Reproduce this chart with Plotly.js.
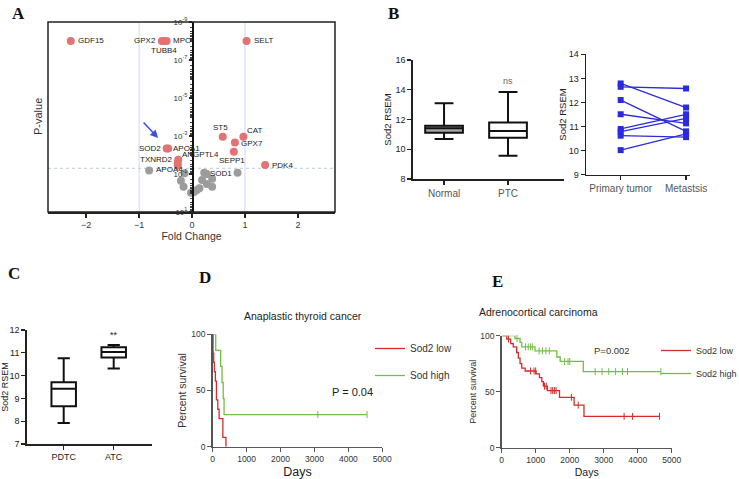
<!DOCTYPE html>
<html><head><meta charset="utf-8">
<script src="https://cdn.plot.ly/plotly-3.0.1.min.js"></script>
<style>html,body{margin:0;padding:0;background:#fff}#chart{width:739px;height:479px}</style>
</head><body><div id="chart"></div>
<script>
// ---------- Panel A: volcano ----------
const redGenes = ['GDF15','GPX2','TUBB4','MPO','SELT','ST5','CAT','GPX7','SEPP1','PDK4','SOD2','APOA1','TXNRD2','ANGPTL4',''];
const redFC    = [-2.29,-0.57,-0.53,-0.48,1.03,0.58,0.97,0.81,0.79,1.38,-0.48,-0.45,-0.27,-0.26,-0.27];
const redP     = [1e-8,1e-8,1e-8,1e-8,1e-8,1.1e-3,1.1e-3,2.2e-3,6.8e-3,0.034,4.5e-3,4.5e-3,0.026,0.018,0.036];
const grayGenes = ['APOA4','','','','SOD1','','','','','','','','','',''];
const grayFC    = [-0.81,-0.14,-0.21,-0.16,0.23,0.28,0.19,0.38,0.38,0.28,0.14,0.09,0.04,-0.02,0.86];
const grayP     = [0.065,0.091,0.23,0.47,0.087,0.10,0.21,0.18,0.47,0.34,0.56,0.69,0.89,0.98,0.087];
const pTicks = [1e-9,1e-7,1e-5,1e-3,1e-1,10];
const pTickText = ['10<sup>-9</sup>','10<sup>-7</sup>','10<sup>-5</sup>','10<sup>-3</sup>','10<sup>-1</sup>','10<sup>1</sup>'];
const fcTicks = [-2,-1,0,1,2];
const pThreshold = 0.05;

// ---------- Panel B left: box stats ----------
const bCats = ['Normal','PTC'];
const bQ1 = [11.11,10.78], bMed = [11.41,11.23], bQ3 = [11.58,11.79], bMin = [10.69,9.57], bMax = [13.09,13.85];

// ---------- Panel B right: paired ----------
const pairCats = ['Primary tumor','Metastsis'];
const primary    = [12.79,12.65,12.10,11.51,10.90,10.79,10.62,10.02];
const metastasis = [11.79,12.58,10.80,11.13,11.51,11.34,10.56,10.70];

// ---------- Panel C: box stats ----------
const cCats = ['PDTC','ATC'];
const cQ1 = [8.66,10.79], cMed = [9.42,11.04], cQ3 = [9.71,11.24], cMin = [7.92,10.31], cMax = [10.76,11.34];

// ---------- Panel D: KM anaplastic thyroid ----------
const dLowT = [0,10,30,50,80,110,150,190,300,390];
const dLowS = [100,83.3,75,66.7,58.3,41.7,33.3,25,8.3,0];
const dLowEnd = 390;
const dLowCens = [];
const dHighT = [0,90,235,275,310,335];
const dHighS = [100,85.7,71.4,57.1,42.9,28.6];
const dHighEnd = 4550;
const dHighCens = [3100,4550];

// ---------- Panel E: KM adrenocortical ----------
const eLowT = [0,150,265,340,440,490,540,590,690,1010,1110,1180,1225,1345,1700,2130,2420];
const eLowS = [100,97,93,90,85,80,75,71,68.5,66,62.5,59,55,51,45,38,28];
const eLowEnd = 4640;
const eLowCens = [200,850,950,1000,1260,1310,1450,1500,1550,1600,2050,2250,3600,3850,4640];
const eHighT = [0,390,540,590,980,1620,1720,2400];
const eHighS = [100,97.5,94,90,86.5,81,77,68];
const eHighEnd = 4680;
const eHighCens = [450,700,780,850,900,1100,1200,1300,1400,1850,1950,2000,2750,2950,3150,3350,3550,3700,4680];

// ---------- helpers ----------
const W = 739, H = 479;
const dx = (a,b) => [a/W, b/W];
const dy = (top,bot) => [1-bot/H, 1-top/H];
const FONT = 'Liberation Sans, Arial, sans-serif';
const RED = '#d42a2a', GREEN = '#72bf44', PT_RED = '#e37272', PT_GRAY = '#9c9c9c', BLUE = '#2b2bdc';

function survAt(ts, ss, t){ let s = ss[0]; for (let i=0;i<ts.length;i++){ if (ts[i] <= t) s = ss[i]; } return s; }

const traces = [];

// Panel A points
traces.push({type:'scatter', mode:'markers', x:grayFC, y:grayP, xaxis:'x', yaxis:'y',
  marker:{color:PT_GRAY, size:8}, showlegend:false, hoverinfo:'skip', cliponaxis:false});
traces.push({type:'scatter', mode:'markers', x:redFC, y:redP, xaxis:'x', yaxis:'y',
  marker:{color:PT_RED, size:8}, showlegend:false, hoverinfo:'skip', cliponaxis:false});

// Panel B left boxes
const boxStyle = (i, fill) => ({type:'box', xaxis:'x2', yaxis:'y2', x:[i], q1:[bQ1[i]], median:[bMed[i]], q3:[bQ3[i]],
  lowerfence:[bMin[i]], upperfence:[bMax[i]], fillcolor:fill, line:{color:'#111', width:2}, width:0.59,
  whiskerwidth:0.5, boxpoints:false, showlegend:false, hoverinfo:'skip'});
traces.push(boxStyle(0,'#a5a5a5'));
traces.push(boxStyle(1,'#ffffff'));

// Panel B right pairs
for (let i=0;i<primary.length;i++){
  traces.push({type:'scatter', mode:'lines+markers', x:[0,1], y:[primary[i], metastasis[i]], xaxis:'x3', yaxis:'y3',
    line:{color:BLUE, width:1.3}, marker:{symbol:'square', size:6, color:BLUE}, showlegend:false, hoverinfo:'skip', cliponaxis:false});
}

// Panel C boxes
for (let i=0;i<2;i++){
  traces.push({type:'box', xaxis:'x4', yaxis:'y4', x:[i], q1:[cQ1[i]], median:[cMed[i]], q3:[cQ3[i]],
    lowerfence:[cMin[i]], upperfence:[cMax[i]], fillcolor:'#fff', line:{color:'#111', width:2}, width:0.49,
    whiskerwidth:0.5, boxpoints:false, showlegend:false, hoverinfo:'skip'});
}

// KM helper
function km(ts, ss, end, cens, color, name, xa, ya, legend){
  traces.push({type:'scatter', mode:'lines', x:ts.concat([end]), y:ss.concat([ss[ss.length-1]]), xaxis:xa, yaxis:ya,
    line:{shape:'hv', color:color, width:1.3}, name:name, legend:legend, legendgroup:name+legend, hoverinfo:'skip', cliponaxis:false});
  if (cens.length){
    traces.push({type:'scatter', mode:'markers', x:cens, y:cens.map(t=>survAt(ts,ss,t)), xaxis:xa, yaxis:ya,
      marker:{symbol:'line-ns', size:5, line:{width:1, color:color}}, showlegend:false, hoverinfo:'skip', cliponaxis:false});
  }
}
km(dLowT, dLowS, dLowEnd, dLowCens, RED, 'Sod2 low', 'x5','y5','legend');
km(dHighT, dHighS, dHighEnd, dHighCens, GREEN, 'Sod high', 'x5','y5','legend');
km(eLowT, eLowS, eLowEnd, eLowCens, RED, 'Sod2 low', 'x6','y6','legend2');
km(eHighT, eHighS, eHighEnd, eHighCens, GREEN, 'Sod2 high', 'x6','y6','legend2');

// ---------- axes ----------
const base = {showgrid:false, zeroline:false, showline:true, linecolor:'#222', linewidth:1.5,
  ticks:'outside', ticklen:4, tickwidth:1.3, tickcolor:'#222', fixedrange:true, automargin:false,
  tickfont:{family:FONT, size:9, color:'#222'}};
const kmBase = Object.assign({}, base, {linecolor:'#555', tickcolor:'#555', tickfont:{family:FONT, size:8.5, color:'#333'}});

const axA_x = dx(48,335), axA_y = dy(22,212);
const xArange = [-2.72, 2.70];
const yAposition = axA_x[0] + (0 - xArange[0])/(xArange[1]-xArange[0])*(axA_x[1]-axA_x[0]);

const layout = {
  width:W, height:H, margin:{l:0,r:0,t:0,b:0,autoexpand:false}, paper_bgcolor:'#fff', plot_bgcolor:'rgba(0,0,0,0)',
  font:{family:FONT, color:'#222'}, showlegend:true,
  xaxis: Object.assign({}, base, {domain:axA_x, range:xArange, anchor:'y', tickvals:fcTicks, linewidth:1.5,
    tickfont:{family:FONT,size:9,color:'#333'},
    title:{text:'Fold Change', font:{family:FONT, size:10.5, color:'#333'}, standoff:3}}),
  yaxis: Object.assign({}, base, {domain:axA_y, type:'log', range:[1,-9], anchor:'free', position:yAposition, side:'left',
    linecolor:'#111', tickvals:pTicks, ticktext:pTickText, ticklen:3, tickfont:{family:FONT,size:8,color:'#333'},
    minor:{ticks:'outside', ticklen:2, dtick:'D1', tickcolor:'#111', tickwidth:0.8}}),
  xaxis2: Object.assign({}, base, {domain:dx(412.7,564), range:[-0.49,1.875], anchor:'y2', tickvals:[0,1], ticktext:bCats,
    tickfont:{family:FONT,size:10,color:'#555'}}),
  yaxis2: Object.assign({}, base, {domain:dy(60,179), range:[8,16], anchor:'x2', tickvals:[8,10,12,14,16],
    title:{text:'Sod2 RSEM', font:{family:FONT,size:9.5,color:'#222'}, standoff:2}}),
  xaxis3: Object.assign({}, base, {domain:dx(586,690), range:[-0.53,1.06], anchor:'y3', tickvals:[0,1], ticktext:pairCats,
    tickfont:{family:FONT,size:10,color:'#555'}}),
  yaxis3: Object.assign({}, base, {domain:dy(54.3,174.7), range:[9,14], anchor:'x3', dtick:1,
    title:{text:'Sod2 RSEM', font:{family:FONT,size:9.5,color:'#222'}, standoff:0}}),
  xaxis4: Object.assign({}, base, {domain:dx(26.7,151.7), range:[-0.74,1.76], anchor:'y4', tickvals:[0,1], ticktext:cCats,
    tickfont:{family:FONT,size:9,color:'#222'}}),
  yaxis4: Object.assign({}, base, {domain:dy(330,444), range:[7,12], anchor:'x4', dtick:1,
    title:{text:'Sod2 RSEM', font:{family:FONT,size:9,color:'#222'}, standoff:2}}),
  xaxis5: Object.assign({}, kmBase, {domain:dx(212.7,382.3), range:[0,5000], anchor:'y5', dtick:1000,
    title:{text:'Days', font:{family:FONT,size:12.5,color:'#222'}, standoff:4}}),
  yaxis5: Object.assign({}, kmBase, {domain:dy(334.3,446.7), range:[0,100], anchor:'x5', tickvals:[0,50,100],
    title:{text:'Percent survival', font:{family:FONT,size:10.5,color:'#333'}, standoff:2}}),
  xaxis6: Object.assign({}, kmBase, {domain:dx(501.7,671.7), range:[0,5000], anchor:'y6', dtick:1000,
    title:{text:'Days', font:{family:FONT,size:10.5,color:'#222'}, standoff:4}}),
  yaxis6: Object.assign({}, kmBase, {domain:dy(335.7,447.7), range:[0,100], anchor:'x6', tickvals:[0,50,100],
    title:{text:'Percent survival', font:{family:FONT,size:9,color:'#333'}, standoff:2}}),
  legend: {x:370/W, y:1-334/H, xanchor:'left', yanchor:'top', bgcolor:'rgba(0,0,0,0)', traceorder:'grouped',
    tracegroupgap:8, itemwidth:30, font:{family:FONT,size:10,color:'#333'}},
  legend2: {x:656/W, y:1-336/H, xanchor:'left', yanchor:'top', bgcolor:'rgba(0,0,0,0)', traceorder:'grouped',
    tracegroupgap:4, itemwidth:30, font:{family:FONT,size:9,color:'#333'}},
  shapes: [
    {type:'line', xref:'x', yref:'y domain', x0:-1, x1:-1, y0:0, y1:1, line:{color:'#cdd8f0', width:1}, layer:'below'},
    {type:'line', xref:'x', yref:'y domain', x0:1, x1:1, y0:0, y1:1, line:{color:'#cdd8f0', width:1}, layer:'below'},
    {type:'line', xref:'x domain', yref:'y', x0:0, x1:1, y0:pThreshold, y1:pThreshold, line:{color:'#bccbdc', width:1, dash:'dot'}, layer:'below'},
    {type:'rect', xref:'x domain', yref:'y domain', x0:0, x1:1, y0:0, y1:1, line:{color:'#222', width:1.5}}
  ],
  annotations: []
};

const ann = layout.annotations;
// Panel letters
const letters = [['A',18,13],['B',393,13],['C',14,273],['D',205,277],['E',497,281]];
letters.forEach(([t,x,y]) => ann.push({text:'<b>'+t+'</b>', xref:'paper', yref:'paper', x:x/W, y:1-y/H, showarrow:false,
  xanchor:'center', yanchor:'middle', font:{family:'Liberation Serif, Times New Roman, serif', size:17, color:'#111'}}));
// A y-title
ann.push({text:'P-value', xref:'paper', yref:'paper', x:38/W, y:1-117/H, textangle:-90, showarrow:false,
  xanchor:'center', yanchor:'middle', font:{family:FONT,size:11,color:'#333'}});
// gene labels
const place = {GDF15:[ 'left',5,0], GPX2:['right',-4,0], TUBB4:['center',0,-10], MPO:['left',4,0], SELT:['left',5,0],
  ST5:['center',-2,9], CAT:['left',2,6], GPX7:['left',4,-1], SEPP1:['center',-2,-9], PDK4:['left',5,0],
  SOD2:['right',-4,0], APOA1:['left',3,0], TXNRD2:['right',-3,3], ANGPTL4:['left',2,5], APOA4:['left',5,1], SOD1:['left',4,-1]};
function addLabels(names, fc, p){
  names.forEach((g,i)=>{ if(!g) return; const pl = place[g];
    ann.push({text:g, xref:'x', yref:'y', x:fc[i], y:Math.log10(p[i]), showarrow:false, xanchor:pl[0], yanchor:'middle',
      xshift:pl[1], yshift:pl[2], font:{family:FONT,size:8,color:'#222'}});});
}
addLabels(redGenes, redFC, redP);
addLabels(grayGenes, grayFC, grayP);
// arrow pointing at SOD2
const sodIdx = redGenes.indexOf('SOD2');
ann.push({text:'', xref:'x', yref:'y', x:redFC[sodIdx]-0.16, y:Math.log10(redP[sodIdx])-0.55, ax:-16, ay:-17,
  showarrow:true, arrowhead:2, arrowsize:1, arrowwidth:1.6, arrowcolor:'#3b50e6'});
// ns and **
ann.push({text:'ns', xref:'x2', yref:'y2', x:1, y:bMax[1], yshift:11, showarrow:false, font:{family:FONT,size:9,color:'#666'}});
ann.push({text:'**', xref:'x4', yref:'y4', x:1, y:cMax[1], yshift:10, showarrow:false, font:{family:FONT,size:9,color:'#222'}});
// KM titles & p values
ann.push({text:'Anaplastic thyroid cancer', xref:'paper', yref:'paper', x:303/W, y:1-316/H, showarrow:false,
  font:{family:FONT,size:10.5,color:'#222'}});
ann.push({text:'Adrenocortical carcinoma', xref:'paper', yref:'paper', x:600/W, y:1-312/H, showarrow:false,
  font:{family:FONT,size:10.5,color:'#222'}});
ann.push({text:'P = 0.04', xref:'paper', yref:'paper', x:352/W, y:1-400/H, showarrow:false,
  font:{family:FONT,size:11,color:'#222'}});
ann.push({text:'P=0.002', xref:'paper', yref:'paper', x:632/W, y:1-358/H, showarrow:false,
  font:{family:FONT,size:9.5,color:'#333'}});

Plotly.newPlot('chart', traces, layout, {displayModeBar:false, staticPlot:true});
</script></body></html>
